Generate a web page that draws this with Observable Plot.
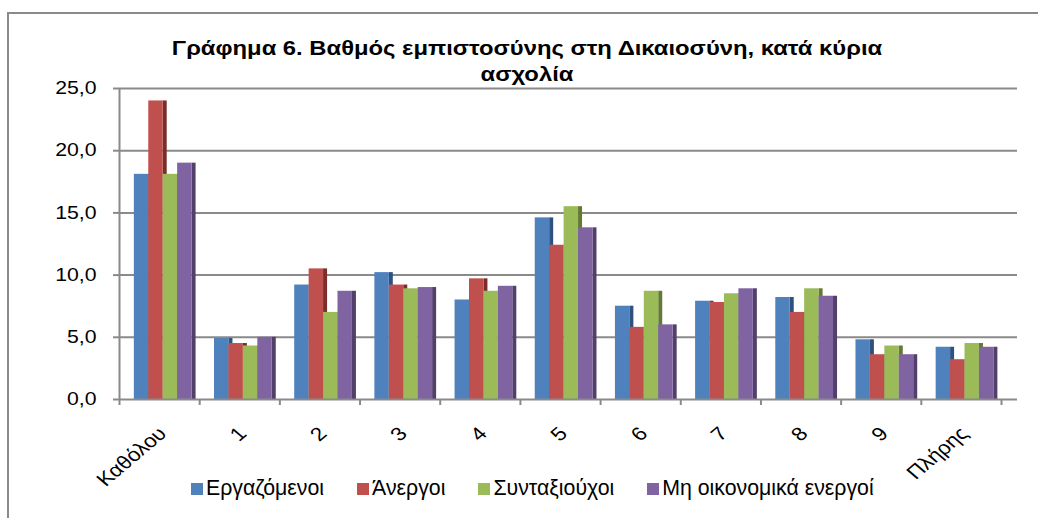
<!DOCTYPE html>
<html>
<head>
<meta charset="utf-8">
<script src="https://cdn.jsdelivr.net/npm/d3@7"></script>
<script src="https://cdn.jsdelivr.net/npm/@observablehq/plot@0.6"></script>
<style>
  html, body { margin: 0; padding: 0; background: #fff; overflow: hidden; }
  #wrap { position: relative; width: 1038px; height: 518px; overflow: hidden; font-family: "Liberation Sans", Arial, sans-serif; }
  #border { position: absolute; left: 7px; top: 12px; width: 1200px; height: 700px; border: 2px solid #8a8a8a; box-sizing: border-box; }
  #chart { position: absolute; left: 0; top: 0; }
  #title { position: absolute; left: 127px; top: 35px; width: 800px; text-align: center; font-weight: bold; font-size: 20px; line-height: 26px; color: #000; transform: scaleX(1.19); transform-origin: 400px 0; }
  #legend { position: absolute; left: 191px; top: 478px; display: flex; gap: 33px; font-size: 21.3px; line-height: 21px; color: #000; }
  .item { display: flex; align-items: center; }
  .sw { width: 12px; height: 12px; margin-right: 3px; }
</style>
</head>
<body>
<div id="wrap">
  <div id="border"></div>
  <div id="chart"></div>
  <div id="title"></div>
  <div id="legend"></div>
</div>
<script>
const categories = ["Καθόλου", "1", "2", "3", "4", "5", "6", "7", "8", "9", "Πλήρης"];
const seriesNames = ["Εργαζόμενοι", "Άνεργοι", "Συνταξιούχοι", "Μη οικονομικά ενεργοί"];
const employed   = [18.1, 4.9, 9.2, 10.2, 8.0, 14.6, 7.5, 7.9, 8.2, 4.8, 4.2];
const unemployed = [24.0, 4.5, 10.5, 9.2, 9.7, 12.4, 5.8, 7.8, 7.0, 3.6, 3.2];
const retired    = [18.1, 4.3, 7.0, 8.9, 8.7, 15.5, 8.7, 8.5, 8.9, 4.3, 4.5];
const inactive   = [19.0, 5.0, 8.7, 9.0, 9.1, 13.8, 6.0, 8.9, 8.3, 3.6, 4.2];
const yTicks = [0, 5, 10, 15, 20, 25];
const titleLines = ["Γράφημα 6. Βαθμός εμπιστοσύνης στη Δικαιοσύνη, κατά κύρια", "ασχολία"];

const colors = ["#4F81BD", "#C0504D", "#9BBB59", "#8064A2"];
const sideColors = ["#2E5180", "#7A2E2C", "#627A33", "#52406B"];
const seriesValues = [employed, unemployed, retired, inactive];

// layout within each category band (band = 1 unit)
const groupOffset = 0.185, barW = 0.18, sideW = 0.05;
const stretch = 1.18;

const rows = [];
seriesValues.forEach((vals, s) => {
  vals.forEach((v, i) => {
    const x1 = i + groupOffset + s * barW;
    rows.push({s, cat: categories[i], series: seriesNames[s], value: v, x1, x2: x1 + barW});
  });
});

const gray = "#8a8a8a";
const font = "Liberation Sans, Arial, sans-serif";
const fmt = d => d.toFixed(1).replace(".", ",");

const marks = [
  Plot.ruleY(yTicks.filter(d => d > 0), {stroke: gray, strokeWidth: 2, insetRight: -16}),
];
seriesNames.forEach((name, s) => {
  const data = rows.filter(r => r.s === s);
  marks.push(Plot.rect(data, {x1: d => d.x2, x2: d => d.x2 + sideW, y1: () => 0, y2: "value", fill: sideColors[s]}));
  marks.push(Plot.rect(data, {x1: "x1", x2: "x2", y1: () => 0, y2: "value", fill: colors[s]}));
});
marks.push(
  Plot.ruleY([0], {stroke: gray, strokeWidth: 2, insetRight: -16}),
  Plot.ruleX([0], {stroke: gray, strokeWidth: 2}),
  Plot.axisY({ticks: yTicks, tickSize: 6, tickFormat: () => "", stroke: gray, strokeWidth: 2, label: null}),
  Plot.text(yTicks, {y: d => d, text: fmt, frameAnchor: "left", textAnchor: "end", dx: -23, rotate: 0.001, fontSize: 18, fill: "#000"}),
  Plot.axisX({ticks: d3.range(0, categories.length + 1), tickSize: 6, tickFormat: () => "", stroke: gray, strokeWidth: 2, label: null}),
  Plot.text(categories, {x: (d, i) => i + 0.5, y: () => 0, text: d => d, rotate: -45, textAnchor: "end", lineAnchor: "middle", dx: 3, dy: 31, fontSize: 19, fill: "#000"})
);

const chart = Plot.plot({
  width: 1038,
  height: 518,
  marginLeft: 119,
  marginRight: 37,
  marginTop: 88,
  marginBottom: 119,
  style: {fontFamily: font, background: "transparent", overflow: "visible"},
  x: {type: "linear", domain: [0, categories.length], axis: null},
  y: {domain: [0, 25], axis: null},
  marks
});
document.getElementById("chart").appendChild(chart);

// horizontal stretch of the chart's text, as in the reference image
chart.querySelectorAll("text").forEach(t => {
  const tr = t.getAttribute("transform") || "";
  if (/rotate\(/.test(tr)) {
    t.setAttribute("transform", tr.replace(/rotate\(/, `scale(${stretch},1) rotate(`));
  }
});

document.getElementById("title").innerHTML = titleLines.join("<br>");
const legend = document.getElementById("legend");
seriesNames.forEach((n, s) => {
  const it = document.createElement("div");
  it.className = "item";
  it.innerHTML = `<span class="sw" style="background:${colors[s]}"></span><span>${n}</span>`;
  legend.appendChild(it);
});
</script>
</body>
</html>
